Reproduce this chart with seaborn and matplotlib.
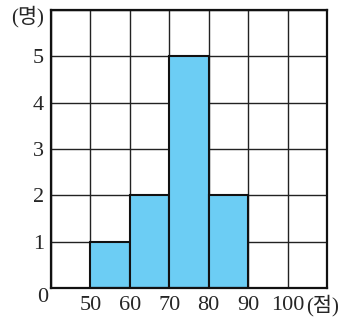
import numpy as np
import pandas as pd
import matplotlib
matplotlib.use('Agg')
import matplotlib.pyplot as plt
import seaborn as sns

# score bins (점) and number of students (명)
bin_edges = [50, 60, 70, 80, 90]
counts = [1, 2, 5, 2]
x_ticks = [50, 60, 70, 80, 90, 100]
y_ticks = [1, 2, 3, 4, 5]

df = pd.DataFrame({
    'score': [(a + b) / 2 for a, b in zip(bin_edges[:-1], bin_edges[1:])],
    'count': counts,
})

sns.set_style('white')
plt.rcParams['font.family'] = ['Liberation Serif', 'Noto Sans CJK KR']

fig = plt.figure(figsize=(3.46, 3.35), dpi=100)
ax = fig.add_axes([51 / 346, 47 / 335, 276 / 346, 278 / 335])

# grid cells
for xv in range(40, 111, 10):
    ax.axvline(xv, color='#222222', lw=1.0, zorder=0)
for yv in range(0, 7):
    ax.axhline(yv, color='#222222', lw=1.0, zorder=0)

sns.histplot(data=df, x='score', weights='count', bins=bin_edges, ax=ax,
             color='#6ccdf4', alpha=1, edgecolor='#111111', linewidth=1.5, zorder=2)

ax.set_xlim(40, 110)
ax.set_ylim(0, 6)
ax.set_xticks(x_ticks)
ax.set_xticklabels([str(v) for v in x_ticks])
ax.set_yticks(y_ticks)
ax.set_yticklabels([str(v) for v in y_ticks])
ax.tick_params(axis='both', length=0, labelsize=16)
ax.tick_params(axis='x', pad=6)
ax.tick_params(axis='y', pad=5)
ax.set_xlabel('')
ax.set_ylabel('')
for s in ax.spines.values():
    s.set_color('#111111')
    s.set_linewidth(1.6)

fig.text(43 / 346, 1 - 298 / 335, '0', ha='center', va='center', fontsize=16)
fig.text(28 / 346, 1 - 17 / 335, '(명)', ha='center', va='center', fontsize=15)
fig.text(323 / 346, 1 - 306 / 335, '(점)', ha='center', va='center', fontsize=15)

fig.savefig('out.png', dpi=100)
